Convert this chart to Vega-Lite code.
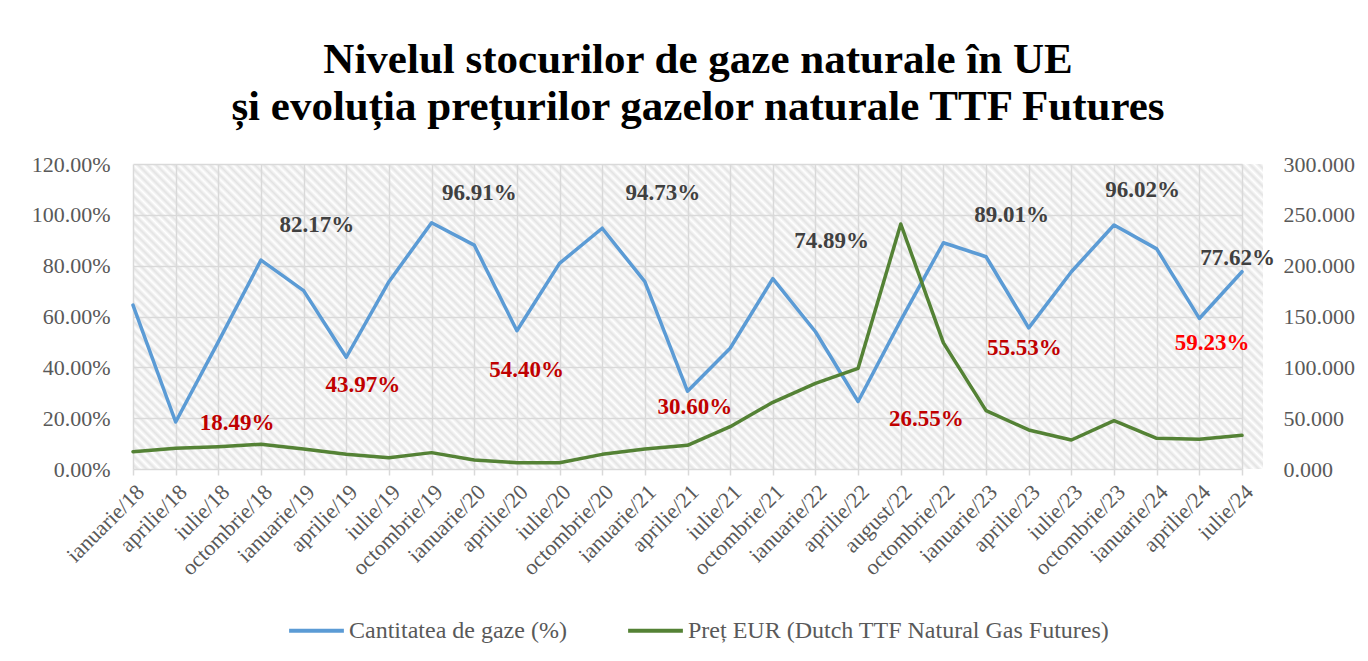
{
  "$schema": "https://vega.github.io/schema/vega-lite/v6.json",
  "width": 1130,
  "height": 305,
  "autosize": {"type": "none"},
  "padding": {"left": 133, "top": 164, "right": 105, "bottom": 192},
  "background": "white",
  "title": {
    "text": ["Nivelul stocurilor de gaze naturale în UE", "și evoluția prețurilor gazelor naturale TTF Futures"],
    "font": "Liberation Serif",
    "fontSize": 43,
    "fontWeight": "bold",
    "color": "#000000",
    "anchor": "middle",
    "lineHeight": 47,
    "offset": 24
  },
  "datasets": {
    "serii": [
      {"luna": "ianuarie/18", "stoc": 0.645, "pret": 17.0},
      {"luna": "aprilie/18", "stoc": 0.1849, "pret": 20.3},
      {"luna": "iulie/18", "stoc": 0.50, "pret": 22.0},
      {"luna": "octombrie/18", "stoc": 0.8217, "pret": 24.3},
      {"luna": "ianuarie/19", "stoc": 0.702, "pret": 19.7},
      {"luna": "aprilie/19", "stoc": 0.4397, "pret": 14.4},
      {"luna": "iulie/19", "stoc": 0.737, "pret": 11.1},
      {"luna": "octombrie/19", "stoc": 0.9691, "pret": 16.1},
      {"luna": "ianuarie/20", "stoc": 0.881, "pret": 8.9},
      {"luna": "aprilie/20", "stoc": 0.5440, "pret": 6.2},
      {"luna": "iulie/20", "stoc": 0.809, "pret": 6.2},
      {"luna": "octombrie/20", "stoc": 0.9473, "pret": 14.4},
      {"luna": "ianuarie/21", "stoc": 0.737, "pret": 19.7},
      {"luna": "aprilie/21", "stoc": 0.3060, "pret": 23.3},
      {"luna": "iulie/21", "stoc": 0.475, "pret": 41.6},
      {"luna": "octombrie/21", "stoc": 0.7489, "pret": 65.6},
      {"luna": "ianuarie/22", "stoc": 0.540, "pret": 84.3},
      {"luna": "aprilie/22", "stoc": 0.2655, "pret": 99.0},
      {"luna": "august/22", "stoc": 0.585, "pret": 241.0},
      {"luna": "octombrie/22", "stoc": 0.8901, "pret": 124.0},
      {"luna": "ianuarie/23", "stoc": 0.835, "pret": 57.4},
      {"luna": "aprilie/23", "stoc": 0.5553, "pret": 38.4},
      {"luna": "iulie/23", "stoc": 0.776, "pret": 28.5},
      {"luna": "octombrie/23", "stoc": 0.9602, "pret": 47.5},
      {"luna": "ianuarie/24", "stoc": 0.866, "pret": 30.2},
      {"luna": "aprilie/24", "stoc": 0.5923, "pret": 29.2},
      {"luna": "iulie/24", "stoc": 0.7762, "pret": 33.1}
    ],
    "etichete": [
      {"luna": "aprilie/18", "stoc": 0.1849, "nivel": 0.181, "decalaj": 1.44, "tip": "minim"},
      {"luna": "octombrie/18", "stoc": 0.8217, "nivel": 0.960, "decalaj": 1.31, "tip": "maxim"},
      {"luna": "aprilie/19", "stoc": 0.4397, "nivel": 0.330, "decalaj": 0.39, "tip": "minim"},
      {"luna": "octombrie/19", "stoc": 0.9691, "nivel": 1.086, "decalaj": 1.12, "tip": "maxim"},
      {"luna": "aprilie/20", "stoc": 0.5440, "nivel": 0.390, "decalaj": 0.23, "tip": "minim"},
      {"luna": "octombrie/20", "stoc": 0.9473, "nivel": 1.086, "decalaj": 1.42, "tip": "maxim"},
      {"luna": "aprilie/21", "stoc": 0.3060, "nivel": 0.244, "decalaj": 0.17, "tip": "minim"},
      {"luna": "octombrie/21", "stoc": 0.7489, "nivel": 0.897, "decalaj": 1.38, "tip": "maxim"},
      {"luna": "aprilie/22", "stoc": 0.2655, "nivel": 0.197, "decalaj": 1.6, "tip": "minim"},
      {"luna": "octombrie/22", "stoc": 0.8901, "nivel": 0.999, "decalaj": 1.6, "tip": "maxim"},
      {"luna": "aprilie/23", "stoc": 0.5553, "nivel": 0.476, "decalaj": -0.1, "tip": "minim"},
      {"luna": "octombrie/23", "stoc": 0.9602, "nivel": 1.098, "decalaj": 0.67, "tip": "maxim"},
      {"luna": "aprilie/24", "stoc": 0.5923, "nivel": 0.496, "decalaj": 0.3, "tip": "minim recent"},
      {"luna": "iulie/24", "stoc": 0.7762, "nivel": 0.830, "decalaj": -0.1, "tip": "maxim"}
    ]
  },
  "layer": [
    {
      "data": {"name": "serii"},
      "mark": {"type": "line", "strokeWidth": 3.5, "strokeCap": "round", "strokeJoin": "round"},
      "encoding": {
        "x": {
          "field": "luna", "type": "ordinal", "sort": null,
          "scale": {"type": "point", "range": [0, 1109], "padding": 0},
          "axis": {
            "title": null, "labelAngle": -45, "labelFont": "Liberation Serif", "labelFontSize": 22,
            "labelColor": "#595959", "labelPadding": 6, "domain": false,
            "ticks": true, "tickSize": 6, "tickColor": "#d9d9d9", "tickWidth": 1.5,
            "grid": true, "gridColor": "#d9d9d9", "gridWidth": 1.5
          }
        },
        "y": {
          "field": "stoc", "type": "quantitative",
          "scale": {"domain": [0, 1.2], "nice": false},
          "axis": {
            "title": null, "format": ".2%", "values": [0, 0.2, 0.4, 0.6, 0.8, 1.0, 1.2],
            "labelFont": "Liberation Serif", "labelFontSize": 22, "labelColor": "#595959",
            "labelPadding": 23, "domain": false, "ticks": false,
            "grid": true, "gridColor": "#d9d9d9", "gridWidth": 1.5
          }
        },
        "color": {
          "datum": "Cantitatea de gaze  (%)", "type": "nominal",
          "scale": {"domain": ["Cantitatea de gaze  (%)", "Preț EUR (Dutch TTF Natural Gas Futures)"], "range": ["#5b9bd5", "#548235"]},
          "legend": {
            "title": null, "orient": "none", "legendX": 154, "legendY": 437, "direction": "horizontal",
            "symbolType": "stroke", "symbolSize": 3000, "symbolStrokeWidth": 4,
            "labelFont": "Liberation Serif", "labelFontSize": 24, "labelColor": "#595959",
            "labelOffset": 3, "columnPadding": 47, "labelLimit": 600
          }
        }
      }
    },
    {
      "data": {"name": "serii"},
      "mark": {"type": "line", "strokeWidth": 3.5, "strokeCap": "round", "strokeJoin": "round"},
      "encoding": {
        "x": {"field": "luna", "type": "ordinal", "sort": null},
        "y": {
          "field": "pret", "type": "quantitative",
          "scale": {"domain": [0, 300], "nice": false},
          "axis": {
            "orient": "right", "title": null, "format": ".3f", "values": [0, 50, 100, 150, 200, 250, 300],
            "labelFont": "Liberation Serif", "labelFontSize": 22, "labelColor": "#595959",
            "labelPadding": 20, "domain": false, "ticks": false, "grid": false
          }
        },
        "color": {"datum": "Preț EUR (Dutch TTF Natural Gas Futures)", "type": "nominal"}
      }
    },
    {
      "data": {"name": "etichete"},
      "mark": {"type": "text", "font": "Liberation Serif", "fontSize": 23, "fontWeight": "bold", "align": "center", "baseline": "middle"},
      "encoding": {
        "x": {"field": "luna", "type": "ordinal", "sort": null},
        "xOffset": {"field": "decalaj", "type": "quantitative", "scale": {"type": "linear", "domain": [-2, 2], "range": [-85.3, 85.3]}},
        "y": {"field": "nivel", "type": "quantitative", "scale": {"domain": [0, 1.2], "nice": false}, "axis": null},
        "text": {"field": "stoc", "type": "quantitative", "format": ".2%"},
        "fill": {
          "field": "tip", "type": "nominal",
          "scale": {"domain": ["maxim", "minim", "minim recent"], "range": ["#404040", "#c00000", "#ff0000"]},
          "legend": null
        }
      }
    }
  ],
  "resolve": {"scale": {"y": "independent"}},
  "config": {
    "legend": {"labelFont": "Liberation Serif", "labelFontSize": 24, "labelColor": "#595959"},
    "view": {
      "stroke": null,
      "fill": {
        "gradient": "linear", "x1": 0, "y1": 1, "x2": 1.1837, "y2": 0.6804,
        "stops": [
          {"offset": 0.0, "color": "#ffffff"}, {"offset": 0.003125, "color": "#e3e3e3"}, {"offset": 0.00625, "color": "#ffffff"}, {"offset": 0.009375, "color": "#e3e3e3"}, {"offset": 0.0125, "color": "#ffffff"}, {"offset": 0.015625, "color": "#e3e3e3"}, {"offset": 0.01875, "color": "#ffffff"}, {"offset": 0.021875, "color": "#e3e3e3"}, {"offset": 0.025, "color": "#ffffff"}, {"offset": 0.028125, "color": "#e3e3e3"}, {"offset": 0.03125, "color": "#ffffff"}, {"offset": 0.034375, "color": "#e3e3e3"}, {"offset": 0.0375, "color": "#ffffff"}, {"offset": 0.040625, "color": "#e3e3e3"}, {"offset": 0.04375, "color": "#ffffff"}, {"offset": 0.046875, "color": "#e3e3e3"},
          {"offset": 0.05, "color": "#ffffff"}, {"offset": 0.053125, "color": "#e3e3e3"}, {"offset": 0.05625, "color": "#ffffff"}, {"offset": 0.059375, "color": "#e3e3e3"}, {"offset": 0.0625, "color": "#ffffff"}, {"offset": 0.065625, "color": "#e3e3e3"}, {"offset": 0.06875, "color": "#ffffff"}, {"offset": 0.071875, "color": "#e3e3e3"}, {"offset": 0.075, "color": "#ffffff"}, {"offset": 0.078125, "color": "#e3e3e3"}, {"offset": 0.08125, "color": "#ffffff"}, {"offset": 0.084375, "color": "#e3e3e3"}, {"offset": 0.0875, "color": "#ffffff"}, {"offset": 0.090625, "color": "#e3e3e3"}, {"offset": 0.09375, "color": "#ffffff"}, {"offset": 0.096875, "color": "#e3e3e3"},
          {"offset": 0.1, "color": "#ffffff"}, {"offset": 0.103125, "color": "#e3e3e3"}, {"offset": 0.10625, "color": "#ffffff"}, {"offset": 0.109375, "color": "#e3e3e3"}, {"offset": 0.1125, "color": "#ffffff"}, {"offset": 0.115625, "color": "#e3e3e3"}, {"offset": 0.11875, "color": "#ffffff"}, {"offset": 0.121875, "color": "#e3e3e3"}, {"offset": 0.125, "color": "#ffffff"}, {"offset": 0.128125, "color": "#e3e3e3"}, {"offset": 0.13125, "color": "#ffffff"}, {"offset": 0.134375, "color": "#e3e3e3"}, {"offset": 0.1375, "color": "#ffffff"}, {"offset": 0.140625, "color": "#e3e3e3"}, {"offset": 0.14375, "color": "#ffffff"}, {"offset": 0.146875, "color": "#e3e3e3"},
          {"offset": 0.15, "color": "#ffffff"}, {"offset": 0.153125, "color": "#e3e3e3"}, {"offset": 0.15625, "color": "#ffffff"}, {"offset": 0.159375, "color": "#e3e3e3"}, {"offset": 0.1625, "color": "#ffffff"}, {"offset": 0.165625, "color": "#e3e3e3"}, {"offset": 0.16875, "color": "#ffffff"}, {"offset": 0.171875, "color": "#e3e3e3"}, {"offset": 0.175, "color": "#ffffff"}, {"offset": 0.178125, "color": "#e3e3e3"}, {"offset": 0.18125, "color": "#ffffff"}, {"offset": 0.184375, "color": "#e3e3e3"}, {"offset": 0.1875, "color": "#ffffff"}, {"offset": 0.190625, "color": "#e3e3e3"}, {"offset": 0.19375, "color": "#ffffff"}, {"offset": 0.196875, "color": "#e3e3e3"},
          {"offset": 0.2, "color": "#ffffff"}, {"offset": 0.203125, "color": "#e3e3e3"}, {"offset": 0.20625, "color": "#ffffff"}, {"offset": 0.209375, "color": "#e3e3e3"}, {"offset": 0.2125, "color": "#ffffff"}, {"offset": 0.215625, "color": "#e3e3e3"}, {"offset": 0.21875, "color": "#ffffff"}, {"offset": 0.221875, "color": "#e3e3e3"}, {"offset": 0.225, "color": "#ffffff"}, {"offset": 0.228125, "color": "#e3e3e3"}, {"offset": 0.23125, "color": "#ffffff"}, {"offset": 0.234375, "color": "#e3e3e3"}, {"offset": 0.2375, "color": "#ffffff"}, {"offset": 0.240625, "color": "#e3e3e3"}, {"offset": 0.24375, "color": "#ffffff"}, {"offset": 0.246875, "color": "#e3e3e3"},
          {"offset": 0.25, "color": "#ffffff"}, {"offset": 0.253125, "color": "#e3e3e3"}, {"offset": 0.25625, "color": "#ffffff"}, {"offset": 0.259375, "color": "#e3e3e3"}, {"offset": 0.2625, "color": "#ffffff"}, {"offset": 0.265625, "color": "#e3e3e3"}, {"offset": 0.26875, "color": "#ffffff"}, {"offset": 0.271875, "color": "#e3e3e3"}, {"offset": 0.275, "color": "#ffffff"}, {"offset": 0.278125, "color": "#e3e3e3"}, {"offset": 0.28125, "color": "#ffffff"}, {"offset": 0.284375, "color": "#e3e3e3"}, {"offset": 0.2875, "color": "#ffffff"}, {"offset": 0.290625, "color": "#e3e3e3"}, {"offset": 0.29375, "color": "#ffffff"}, {"offset": 0.296875, "color": "#e3e3e3"},
          {"offset": 0.3, "color": "#ffffff"}, {"offset": 0.303125, "color": "#e3e3e3"}, {"offset": 0.30625, "color": "#ffffff"}, {"offset": 0.309375, "color": "#e3e3e3"}, {"offset": 0.3125, "color": "#ffffff"}, {"offset": 0.315625, "color": "#e3e3e3"}, {"offset": 0.31875, "color": "#ffffff"}, {"offset": 0.321875, "color": "#e3e3e3"}, {"offset": 0.325, "color": "#ffffff"}, {"offset": 0.328125, "color": "#e3e3e3"}, {"offset": 0.33125, "color": "#ffffff"}, {"offset": 0.334375, "color": "#e3e3e3"}, {"offset": 0.3375, "color": "#ffffff"}, {"offset": 0.340625, "color": "#e3e3e3"}, {"offset": 0.34375, "color": "#ffffff"}, {"offset": 0.346875, "color": "#e3e3e3"},
          {"offset": 0.35, "color": "#ffffff"}, {"offset": 0.353125, "color": "#e3e3e3"}, {"offset": 0.35625, "color": "#ffffff"}, {"offset": 0.359375, "color": "#e3e3e3"}, {"offset": 0.3625, "color": "#ffffff"}, {"offset": 0.365625, "color": "#e3e3e3"}, {"offset": 0.36875, "color": "#ffffff"}, {"offset": 0.371875, "color": "#e3e3e3"}, {"offset": 0.375, "color": "#ffffff"}, {"offset": 0.378125, "color": "#e3e3e3"}, {"offset": 0.38125, "color": "#ffffff"}, {"offset": 0.384375, "color": "#e3e3e3"}, {"offset": 0.3875, "color": "#ffffff"}, {"offset": 0.390625, "color": "#e3e3e3"}, {"offset": 0.39375, "color": "#ffffff"}, {"offset": 0.396875, "color": "#e3e3e3"},
          {"offset": 0.4, "color": "#ffffff"}, {"offset": 0.403125, "color": "#e3e3e3"}, {"offset": 0.40625, "color": "#ffffff"}, {"offset": 0.409375, "color": "#e3e3e3"}, {"offset": 0.4125, "color": "#ffffff"}, {"offset": 0.415625, "color": "#e3e3e3"}, {"offset": 0.41875, "color": "#ffffff"}, {"offset": 0.421875, "color": "#e3e3e3"}, {"offset": 0.425, "color": "#ffffff"}, {"offset": 0.428125, "color": "#e3e3e3"}, {"offset": 0.43125, "color": "#ffffff"}, {"offset": 0.434375, "color": "#e3e3e3"}, {"offset": 0.4375, "color": "#ffffff"}, {"offset": 0.440625, "color": "#e3e3e3"}, {"offset": 0.44375, "color": "#ffffff"}, {"offset": 0.446875, "color": "#e3e3e3"},
          {"offset": 0.45, "color": "#ffffff"}, {"offset": 0.453125, "color": "#e3e3e3"}, {"offset": 0.45625, "color": "#ffffff"}, {"offset": 0.459375, "color": "#e3e3e3"}, {"offset": 0.4625, "color": "#ffffff"}, {"offset": 0.465625, "color": "#e3e3e3"}, {"offset": 0.46875, "color": "#ffffff"}, {"offset": 0.471875, "color": "#e3e3e3"}, {"offset": 0.475, "color": "#ffffff"}, {"offset": 0.478125, "color": "#e3e3e3"}, {"offset": 0.48125, "color": "#ffffff"}, {"offset": 0.484375, "color": "#e3e3e3"}, {"offset": 0.4875, "color": "#ffffff"}, {"offset": 0.490625, "color": "#e3e3e3"}, {"offset": 0.49375, "color": "#ffffff"}, {"offset": 0.496875, "color": "#e3e3e3"},
          {"offset": 0.5, "color": "#ffffff"}, {"offset": 0.503125, "color": "#e3e3e3"}, {"offset": 0.50625, "color": "#ffffff"}, {"offset": 0.509375, "color": "#e3e3e3"}, {"offset": 0.5125, "color": "#ffffff"}, {"offset": 0.515625, "color": "#e3e3e3"}, {"offset": 0.51875, "color": "#ffffff"}, {"offset": 0.521875, "color": "#e3e3e3"}, {"offset": 0.525, "color": "#ffffff"}, {"offset": 0.528125, "color": "#e3e3e3"}, {"offset": 0.53125, "color": "#ffffff"}, {"offset": 0.534375, "color": "#e3e3e3"}, {"offset": 0.5375, "color": "#ffffff"}, {"offset": 0.540625, "color": "#e3e3e3"}, {"offset": 0.54375, "color": "#ffffff"}, {"offset": 0.546875, "color": "#e3e3e3"},
          {"offset": 0.55, "color": "#ffffff"}, {"offset": 0.553125, "color": "#e3e3e3"}, {"offset": 0.55625, "color": "#ffffff"}, {"offset": 0.559375, "color": "#e3e3e3"}, {"offset": 0.5625, "color": "#ffffff"}, {"offset": 0.565625, "color": "#e3e3e3"}, {"offset": 0.56875, "color": "#ffffff"}, {"offset": 0.571875, "color": "#e3e3e3"}, {"offset": 0.575, "color": "#ffffff"}, {"offset": 0.578125, "color": "#e3e3e3"}, {"offset": 0.58125, "color": "#ffffff"}, {"offset": 0.584375, "color": "#e3e3e3"}, {"offset": 0.5875, "color": "#ffffff"}, {"offset": 0.590625, "color": "#e3e3e3"}, {"offset": 0.59375, "color": "#ffffff"}, {"offset": 0.596875, "color": "#e3e3e3"},
          {"offset": 0.6, "color": "#ffffff"}, {"offset": 0.603125, "color": "#e3e3e3"}, {"offset": 0.60625, "color": "#ffffff"}, {"offset": 0.609375, "color": "#e3e3e3"}, {"offset": 0.6125, "color": "#ffffff"}, {"offset": 0.615625, "color": "#e3e3e3"}, {"offset": 0.61875, "color": "#ffffff"}, {"offset": 0.621875, "color": "#e3e3e3"}, {"offset": 0.625, "color": "#ffffff"}, {"offset": 0.628125, "color": "#e3e3e3"}, {"offset": 0.63125, "color": "#ffffff"}, {"offset": 0.634375, "color": "#e3e3e3"}, {"offset": 0.6375, "color": "#ffffff"}, {"offset": 0.640625, "color": "#e3e3e3"}, {"offset": 0.64375, "color": "#ffffff"}, {"offset": 0.646875, "color": "#e3e3e3"},
          {"offset": 0.65, "color": "#ffffff"}, {"offset": 0.653125, "color": "#e3e3e3"}, {"offset": 0.65625, "color": "#ffffff"}, {"offset": 0.659375, "color": "#e3e3e3"}, {"offset": 0.6625, "color": "#ffffff"}, {"offset": 0.665625, "color": "#e3e3e3"}, {"offset": 0.66875, "color": "#ffffff"}, {"offset": 0.671875, "color": "#e3e3e3"}, {"offset": 0.675, "color": "#ffffff"}, {"offset": 0.678125, "color": "#e3e3e3"}, {"offset": 0.68125, "color": "#ffffff"}, {"offset": 0.684375, "color": "#e3e3e3"}, {"offset": 0.6875, "color": "#ffffff"}, {"offset": 0.690625, "color": "#e3e3e3"}, {"offset": 0.69375, "color": "#ffffff"}, {"offset": 0.696875, "color": "#e3e3e3"},
          {"offset": 0.7, "color": "#ffffff"}, {"offset": 0.703125, "color": "#e3e3e3"}, {"offset": 0.70625, "color": "#ffffff"}, {"offset": 0.709375, "color": "#e3e3e3"}, {"offset": 0.7125, "color": "#ffffff"}, {"offset": 0.715625, "color": "#e3e3e3"}, {"offset": 0.71875, "color": "#ffffff"}, {"offset": 0.721875, "color": "#e3e3e3"}, {"offset": 0.725, "color": "#ffffff"}, {"offset": 0.728125, "color": "#e3e3e3"}, {"offset": 0.73125, "color": "#ffffff"}, {"offset": 0.734375, "color": "#e3e3e3"}, {"offset": 0.7375, "color": "#ffffff"}, {"offset": 0.740625, "color": "#e3e3e3"}, {"offset": 0.74375, "color": "#ffffff"}, {"offset": 0.746875, "color": "#e3e3e3"},
          {"offset": 0.75, "color": "#ffffff"}, {"offset": 0.753125, "color": "#e3e3e3"}, {"offset": 0.75625, "color": "#ffffff"}, {"offset": 0.759375, "color": "#e3e3e3"}, {"offset": 0.7625, "color": "#ffffff"}, {"offset": 0.765625, "color": "#e3e3e3"}, {"offset": 0.76875, "color": "#ffffff"}, {"offset": 0.771875, "color": "#e3e3e3"}, {"offset": 0.775, "color": "#ffffff"}, {"offset": 0.778125, "color": "#e3e3e3"}, {"offset": 0.78125, "color": "#ffffff"}, {"offset": 0.784375, "color": "#e3e3e3"}, {"offset": 0.7875, "color": "#ffffff"}, {"offset": 0.790625, "color": "#e3e3e3"}, {"offset": 0.79375, "color": "#ffffff"}, {"offset": 0.796875, "color": "#e3e3e3"},
          {"offset": 0.8, "color": "#ffffff"}, {"offset": 0.803125, "color": "#e3e3e3"}, {"offset": 0.80625, "color": "#ffffff"}, {"offset": 0.809375, "color": "#e3e3e3"}, {"offset": 0.8125, "color": "#ffffff"}, {"offset": 0.815625, "color": "#e3e3e3"}, {"offset": 0.81875, "color": "#ffffff"}, {"offset": 0.821875, "color": "#e3e3e3"}, {"offset": 0.825, "color": "#ffffff"}, {"offset": 0.828125, "color": "#e3e3e3"}, {"offset": 0.83125, "color": "#ffffff"}, {"offset": 0.834375, "color": "#e3e3e3"}, {"offset": 0.8375, "color": "#ffffff"}, {"offset": 0.840625, "color": "#e3e3e3"}, {"offset": 0.84375, "color": "#ffffff"}, {"offset": 0.846875, "color": "#e3e3e3"},
          {"offset": 0.85, "color": "#ffffff"}, {"offset": 0.853125, "color": "#e3e3e3"}, {"offset": 0.85625, "color": "#ffffff"}, {"offset": 0.859375, "color": "#e3e3e3"}, {"offset": 0.8625, "color": "#ffffff"}, {"offset": 0.865625, "color": "#e3e3e3"}, {"offset": 0.86875, "color": "#ffffff"}, {"offset": 0.871875, "color": "#e3e3e3"}, {"offset": 0.875, "color": "#ffffff"}, {"offset": 0.878125, "color": "#e3e3e3"}, {"offset": 0.88125, "color": "#ffffff"}, {"offset": 0.884375, "color": "#e3e3e3"}, {"offset": 0.8875, "color": "#ffffff"}, {"offset": 0.890625, "color": "#e3e3e3"}, {"offset": 0.89375, "color": "#ffffff"}, {"offset": 0.896875, "color": "#e3e3e3"},
          {"offset": 0.9, "color": "#ffffff"}, {"offset": 0.903125, "color": "#e3e3e3"}, {"offset": 0.90625, "color": "#ffffff"}, {"offset": 0.909375, "color": "#e3e3e3"}, {"offset": 0.9125, "color": "#ffffff"}, {"offset": 0.915625, "color": "#e3e3e3"}, {"offset": 0.91875, "color": "#ffffff"}, {"offset": 0.921875, "color": "#e3e3e3"}, {"offset": 0.925, "color": "#ffffff"}, {"offset": 0.928125, "color": "#e3e3e3"}, {"offset": 0.93125, "color": "#ffffff"}, {"offset": 0.934375, "color": "#e3e3e3"}, {"offset": 0.9375, "color": "#ffffff"}, {"offset": 0.940625, "color": "#e3e3e3"}, {"offset": 0.94375, "color": "#ffffff"}, {"offset": 0.946875, "color": "#e3e3e3"},
          {"offset": 0.95, "color": "#ffffff"}, {"offset": 0.953125, "color": "#e3e3e3"}, {"offset": 0.95625, "color": "#ffffff"}, {"offset": 0.959375, "color": "#e3e3e3"}, {"offset": 0.9625, "color": "#ffffff"}, {"offset": 0.965625, "color": "#e3e3e3"}, {"offset": 0.96875, "color": "#ffffff"}, {"offset": 0.971875, "color": "#e3e3e3"}, {"offset": 0.975, "color": "#ffffff"}, {"offset": 0.978125, "color": "#e3e3e3"}, {"offset": 0.98125, "color": "#ffffff"}, {"offset": 0.984375, "color": "#e3e3e3"}, {"offset": 0.9875, "color": "#ffffff"}, {"offset": 0.990625, "color": "#e3e3e3"}, {"offset": 0.99375, "color": "#ffffff"}, {"offset": 0.996875, "color": "#e3e3e3"},
          {"offset": 1.0, "color": "#ffffff"}
        ]
      }
    }
  }
}
